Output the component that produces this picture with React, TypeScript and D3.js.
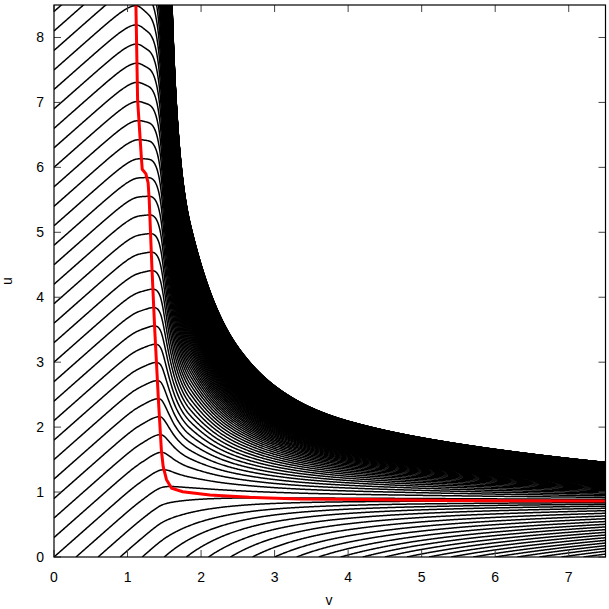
import React, { useMemo } from "react";
import * as d3 from "d3";

const W = 609;
const H = 609;

const xDomain = [0, 7.5];
const yDomain = [0, 8.5];
const xTicks = [0, 1, 2, 3, 4, 5, 6, 7];
const yTicks = [0, 1, 2, 3, 4, 5, 6, 7, 8];

// red curve: locus of the maxima of the trajectories
const redV = [1.114, 1.137, 1.19, 1.2, 1.25, 1.28, 1.295, 1.33, 1.37, 1.42, 1.46, 1.485, 1.53, 1.6, 1.75, 2.12, 2.66, 3.34, 4.25, 5.0, 6.0, 7.5];
const redU = [8.5, 7.04, 6.12, 5.97, 5.9, 5.76, 5.5, 4.5, 3.5, 2.42, 1.65, 1.39, 1.19, 1.06, 1.006, 0.955, 0.92, 0.894, 0.885, 0.872, 0.866, 0.862];

// slope of the trajectories on u = 0, read along the bottom edge
const rateV = [0, 1.5, 1.7, 2.0, 2.5, 3.0, 3.5, 4.0, 5.0, 6.0, 7.5];
const rateLow = [1, 1, 0.92, 0.8, 0.65, 0.5, 0.4, 0.31, 0.23, 0.18, 0.15];
// relaxation speed above the red curve, read along the outer edge of the bundle
const rateHigh = [1, 1, 0.92, 0.78, 0.5, 0.36, 0.26, 0.19, 0.15, 0.14, 0.14];

// curvature exponent of the field above the red curve
const powV = [0, 1.5, 1.85, 7.5];
const powHigh = [2, 2, 1.15, 1.15];
// curvature exponent below the red curve
const powLow = 1;

// starting points on the left edge (v = 0)
const leftStarts = [0, 0.3, 0.6, 0.9, 1.2, 1.5, 1.8, 2.1, 2.4, 2.7, 3.0, 3.3, 3.6, 3.9, 4.2, 4.5, 4.8, 5.1, 5.4, 5.7, 6.0, 6.3, 6.6, 6.9, 7.2, 7.5, 7.8, 8.1, 8.4];
// starting points above the frame, same spacing on v = 0
const hiddenStarts = d3.range(8.7, 60, 0.3);
// starting points on the bottom edge (u = 0)
const bottomStarts = [0.3, 0.6, 0.9, 1.2, 1.5, 1.8, 2.1, 2.4, 2.7, 3.0, 3.3, 3.6, 3.9, 4.2, 4.5, 4.8, 5.1, 5.4, 5.7, 6.0, 6.3, 6.6, 6.9, 7.2];

export default function App() {
  const left = 54;
  const right = 605.5;
  const top = 5;
  const bottom = 557;
  const x = d3.scaleLinear().domain(xDomain).range([left, right]);
  const y = d3.scaleLinear().domain(yDomain).range([bottom, top]);

  const paths = useMemo(() => {
    const nullcline = d3.scaleLinear().domain(redV).range(redU).clamp(true);
    const sLow = d3.scaleLinear().domain(rateV).range(rateLow).clamp(true);
    const sHigh = d3.scaleLinear().domain(rateV).range(rateHigh).clamp(true);
    const power = d3.scaleLinear().domain(powV).range(powHigh).clamp(true);
    const U = (v: number) => (v >= redV[0] ? nullcline(v) : redU[0] * Math.exp((redV[0] - v) * 8));
    const f = (u: number, v: number) => {
      const Uv = U(v);
      const r = Math.max(u, 0) / Uv;
      return r > 1 ? sHigh(v) * (1 - Math.pow(r, power(v))) : sLow(v) * (1 - Math.pow(r, powLow));
    };
    const jac = (u: number, v: number) => {
      const Uv = U(v);
      const r = Math.max(u, 1e-6) / Uv;
      const m = r > 1 ? power(v) : powLow;
      const s = r > 1 ? sHigh(v) : sLow(v);
      return (s * m * Math.pow(r, m - 1)) / Uv;
    };

    const trace = (v0: number, u0: number) => {
      const pts: [number, number][] = [[v0, u0]];
      let v = v0;
      let u = u0;
      let lv = v;
      let lu = u;
      let guard = 0;
      while (v < 7.5 && guard < 20000) {
        guard++;
        let h = Math.min(0.005, 0.8 / (jac(u, v) + 1e-9));
        h = Math.min(h, 7.5 - v + 1e-9);
        const k1 = f(u, v);
        const k2 = f(u + (h / 2) * k1, v + h / 2);
        const k3 = f(u + (h / 2) * k2, v + h / 2);
        const k4 = f(u + h * k3, v + h);
        u += (h / 6) * (k1 + 2 * k2 + 2 * k3 + k4);
        v += h;
        if (Math.abs(v - lv) >= 0.008 || Math.abs(u - lu) >= 0.03 || v >= 7.5) {
          pts.push([v, u]);
          lv = v;
          lu = u;
        }
      }
      return pts;
    };

    const line = d3
      .line<[number, number]>()
      .x((d) => x(d[0]))
      .y((d) => y(Math.min(d[1], 12)));

    const all: string[] = [];
    for (const u0 of leftStarts) all.push(line(trace(0, u0)) || "");
    for (const u0 of hiddenStarts) all.push(line(trace(0, u0)) || "");
    for (const v0 of bottomStarts) all.push(line(trace(v0, 0)) || "");
    return all;
  }, []);

  const redPath =
    d3
      .line<number>()
      .x((_, i) => x(redV[i]))
      .y((d) => y(d))(redU) || "";

  const font = "'Liberation Sans', Arial, sans-serif";
  const tickLen = 7;

  return (
    <svg width={W} height={H} style={{ position: "absolute", left: 0, top: 0, background: "#fff" }}>
      <defs>
        <clipPath id="plot">
          <rect x={left} y={top} width={right - left} height={bottom - top} />
        </clipPath>
      </defs>
      <g clipPath="url(#plot)">
        {paths.map((d, i) => (
          <path key={i} d={d} fill="none" stroke="#000" strokeWidth={1.5} />
        ))}
        <path d={redPath} fill="none" stroke="#ff0000" strokeWidth={3} />
      </g>
      {xTicks.map((t) => (
        <g key={"xt" + t}>
          <line x1={x(t)} x2={x(t)} y1={bottom} y2={bottom - tickLen} stroke="#444" strokeWidth={1} />
          <line x1={x(t)} x2={x(t)} y1={top} y2={top + tickLen} stroke="#444" strokeWidth={1} />
          <text x={x(t)} y={582} textAnchor="middle" fontFamily={font} fontSize={14} fill="#000">
            {t}
          </text>
        </g>
      ))}
      {yTicks.map((t) => (
        <g key={"yt" + t}>
          <line x1={left} x2={left + tickLen} y1={y(t)} y2={y(t)} stroke="#444" strokeWidth={1} />
          <line x1={right} x2={right - tickLen} y1={y(t)} y2={y(t)} stroke="#444" strokeWidth={1} />
          <text x={44} y={y(t) + 5} textAnchor="end" fontFamily={font} fontSize={14} fill="#000">
            {t}
          </text>
        </g>
      ))}
      <rect x={left} y={top} width={right - left} height={bottom - top} fill="none" stroke="#000" strokeWidth={1.2} />
      <text x={329} y={605} textAnchor="middle" fontFamily={font} fontSize={14} fill="#000">
        v
      </text>
      <text transform={`translate(12,281) rotate(-90)`} textAnchor="middle" fontFamily={font} fontSize={14} fill="#000">
        u
      </text>
    </svg>
  );
}
